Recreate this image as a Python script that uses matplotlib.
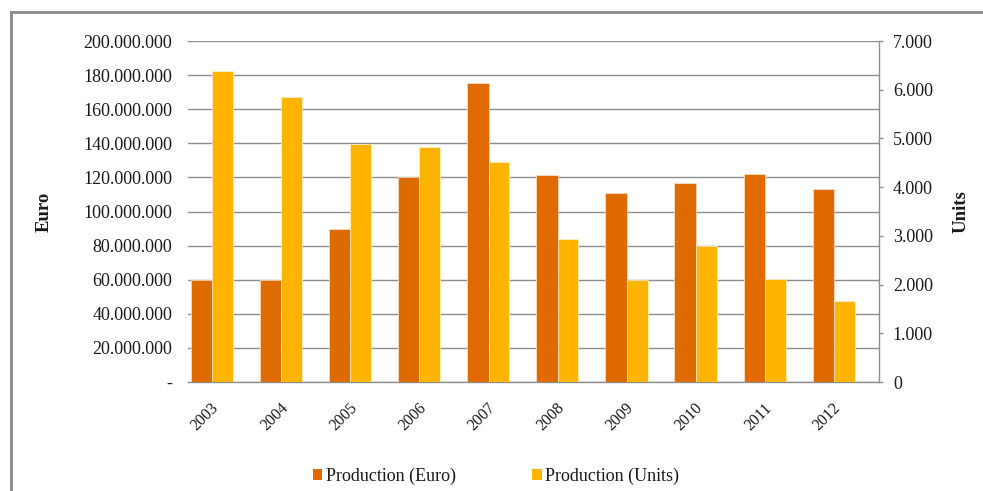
import matplotlib
matplotlib.use("Agg")
import matplotlib.pyplot as plt
from matplotlib.patches import Patch
from matplotlib.lines import Line2D
from matplotlib.ticker import FuncFormatter, MultipleLocator
import numpy as np

years = ["2003", "2004", "2005", "2006", "2007", "2008", "2009", "2010", "2011", "2012"]
production_euro = [60_000_000, 60_000_000, 90_000_000, 120_000_000, 175_500_000,
                   121_500_000, 110_800_000, 116_800_000, 122_000_000, 113_000_000]
production_units = [6385, 5850, 4890, 4825, 4510, 2930, 2095, 2795, 2105, 1665]

euro_color = "#DE6A00"
units_color = "#FFB400"
grid_color = "#8E8E8E"
text_color = "#1A1A1A"

plt.rcParams["font.family"] = ["Liberation Serif", "DejaVu Serif"]

fig = plt.figure(figsize=(9.83, 4.91), dpi=100)
ax = fig.add_axes([188 / 983, 1 - 382 / 491, (879 - 188) / 983, (382 - 41) / 491])
ax2 = ax.twinx()

x = np.arange(len(years))
ax.bar(x - 0.305, production_euro, width=0.31, color=euro_color,
       edgecolor="#FBE3CC", linewidth=0.5, zorder=3)
ax2.bar(x + 0.0, production_units, width=0.30, color=units_color,
        edgecolor="#FFF0CC", linewidth=0.5, zorder=3)

ax.set_xlim(-0.5, len(years) - 0.5)
ax.set_ylim(0, 200_000_000)
ax2.set_ylim(0, 7000)

def euro_fmt(v, _):
    if v == 0:
        return "-"
    return f"{int(v):,}".replace(",", ".")

def units_fmt(v, _):
    return f"{int(v):,}".replace(",", ".")

ax.yaxis.set_major_locator(MultipleLocator(20_000_000))
ax.yaxis.set_major_formatter(FuncFormatter(euro_fmt))
ax2.yaxis.set_major_locator(MultipleLocator(1000))
ax2.yaxis.set_major_formatter(FuncFormatter(units_fmt))

ax.grid(axis="y", color=grid_color, linewidth=1.0, zorder=0)
ax.set_axisbelow(True)

for a in (ax, ax2):
    for s in ("top", "left", "right", "bottom"):
        a.spines[s].set_visible(False)
ax.spines["bottom"].set_visible(True)
ax.spines["bottom"].set_color(grid_color)
ax.spines["bottom"].set_linewidth(1.0)
ax2.spines["right"].set_visible(True)
ax2.spines["right"].set_color(grid_color)
ax2.spines["right"].set_linewidth(1.0)

ax.tick_params(axis="y", length=0, pad=11.5, labelsize=13, labelcolor=text_color)
ax2.tick_params(axis="y", length=3, width=1.0, color=grid_color, pad=7,
                labelsize=13, labelcolor=text_color)

# year labels sit slightly left of the group centre, rotated 45 degrees
ax.set_xticks(x - 0.17)
ax.set_xticklabels(years, rotation=45, ha="right", rotation_mode="anchor",
                   fontsize=11.5, color=text_color)
ax.tick_params(axis="x", length=0, pad=13)

ax.set_ylabel("Euro", fontsize=13.5, fontweight="bold", color=text_color)
ax2.set_ylabel("Units", fontsize=13.5, fontweight="bold", color=text_color)
ax.yaxis.set_label_coords((53 - 188) / (879 - 188), 0.5)
ax2.yaxis.set_label_coords((953 - 188) / (879 - 188), 0.5)

handles = [Patch(facecolor=euro_color, edgecolor="none", label="Production (Euro)"),
           Patch(facecolor=units_color, edgecolor="none", label="Production (Units)")]
fig.legend(handles=handles, loc="center", bbox_to_anchor=(496 / 983, 1 - 476 / 491),
           ncol=2, frameon=False, fontsize=13, handlelength=0.55, handleheight=0.55,
           handletextpad=0.2, columnspacing=4.2, labelcolor=text_color)

# chart frame (top and left edges)
frame_kw = dict(color="#8A8A8A", linewidth=2.0, transform=fig.transFigure)
fig.add_artist(Line2D([11 / 983, 1.0], [1 - 12 / 491, 1 - 12 / 491], **frame_kw))
fig.add_artist(Line2D([11 / 983, 11 / 983], [1 - 12 / 491, 0.0], **frame_kw))

fig.savefig("out.png", dpi=100, facecolor="white")
